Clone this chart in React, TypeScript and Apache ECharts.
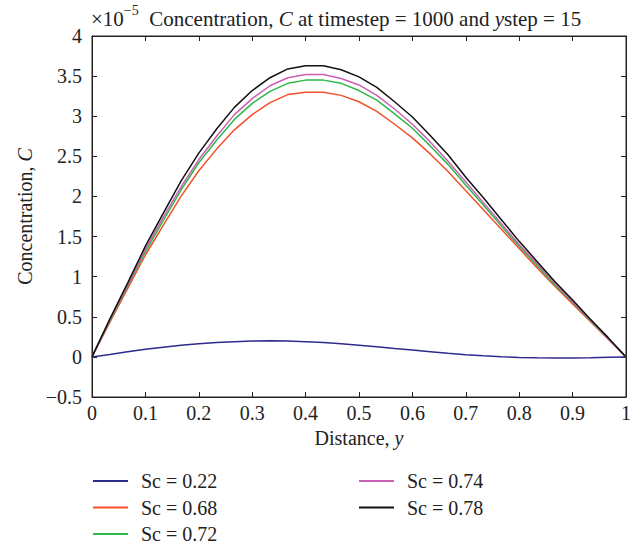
import React, { useEffect, useRef } from "react";
import * as echarts from "echarts";

// Mesh: 30 intervals across the channel, distance y from 0 to 1
const NODES = 30;
const distance = Array.from({ length: NODES + 1 }, (_, i) => i / NODES);

const xTicks = ["0", "0.1", "0.2", "0.3", "0.4", "0.5", "0.6", "0.7", "0.8", "0.9", "1"];

// Concentration C (×10^-5) at each mesh node, one array per Schmidt number
const sc022 = [0, 0.03, 0.065, 0.095, 0.12, 0.145, 0.163, 0.178, 0.19, 0.197, 0.2, 0.198, 0.19, 0.178, 0.163, 0.146, 0.127, 0.105, 0.085, 0.065, 0.045, 0.028, 0.013, 0.002, -0.007, -0.012, -0.014, -0.013, -0.01, -0.005, 0];
const sc068 = [0, 0.43, 0.85, 1.27, 1.64, 2.0, 2.32, 2.59, 2.83, 3.02, 3.17, 3.27, 3.3, 3.3, 3.26, 3.18, 3.06, 2.9, 2.73, 2.53, 2.31, 2.07, 1.83, 1.59, 1.35, 1.11, 0.88, 0.66, 0.44, 0.22, 0];
const sc072 = [0, 0.45, 0.88, 1.31, 1.7, 2.08, 2.42, 2.7, 2.96, 3.16, 3.31, 3.41, 3.45, 3.45, 3.41, 3.32, 3.2, 3.03, 2.85, 2.63, 2.4, 2.14, 1.89, 1.63, 1.38, 1.14, 0.9, 0.68, 0.45, 0.23, 0];
const sc074 = [0, 0.46, 0.89, 1.34, 1.74, 2.12, 2.46, 2.75, 3.02, 3.22, 3.38, 3.48, 3.52, 3.52, 3.47, 3.39, 3.26, 3.09, 2.9, 2.68, 2.44, 2.18, 1.92, 1.66, 1.4, 1.16, 0.92, 0.69, 0.46, 0.23, 0];
const sc078 = [0, 0.47, 0.92, 1.38, 1.79, 2.19, 2.54, 2.84, 3.11, 3.32, 3.48, 3.59, 3.63, 3.63, 3.58, 3.49, 3.36, 3.18, 2.99, 2.76, 2.52, 2.24, 1.98, 1.71, 1.44, 1.19, 0.94, 0.71, 0.47, 0.24, 0];

const seriesNames = ["Sc = 0.22", "Sc = 0.68", "Sc = 0.72", "Sc = 0.74", "Sc = 0.78"];
const seriesValues = [sc022, sc068, sc072, sc074, sc078];
const seriesColors = ["#2f2a8e", "#f2512a", "#2db84a", "#c960b4", "#111111"];

const FONT = "'Liberation Serif', 'Times New Roman', serif";
const FS = 20;
const TEXT = "#222";
const AXIS_COLOR = "#222";

const fmtNum = (v: number) => {
  const r = Math.round(v * 100) / 100;
  return String(r).replace("-", "\u2212");
};

export default function App() {
  const ref = useRef<HTMLDivElement>(null);

  useEffect(() => {
    document.body.style.margin = "0";
    if (!ref.current) return;
    const chart = echarts.init(ref.current, undefined, { renderer: "svg" });

    const tickCommon = { inside: true, length: 5, lineStyle: { color: AXIS_COLOR, width: 1 } };
    const lineCommon = { show: true, onZero: false, lineStyle: { color: AXIS_COLOR, width: 1 } };
    const nameRich = {
      n: { fontFamily: FONT, fontSize: FS, color: TEXT },
      i: { fontFamily: FONT, fontSize: FS, color: TEXT, fontStyle: "italic" },
    };
    const legendCommon = {
      orient: "vertical",
      top: 471,
      height: 90,
      padding: 0,
      itemWidth: 35,
      itemHeight: 14,
      itemGap: 6.5,
      itemStyle: { color: "rgba(0,0,0,0)", borderWidth: 0 },
      textStyle: { fontFamily: FONT, fontSize: FS, color: TEXT, lineHeight: 20, padding: [0, 0, 0, 8] },
    };

    const option: any = {
      animation: false,
      backgroundColor: "#fff",
      textStyle: { fontFamily: FONT },
      grid: {
        left: 92,
        right: 13,
        top: 36,
        bottom: 147,
        show: true,
        borderColor: AXIS_COLOR,
        borderWidth: 1,
        backgroundColor: "transparent",
      },
      xAxis: [
        {
          type: "value",
          min: 0,
          max: 1,
          interval: 0.1,
          position: "bottom",
          axisLine: lineCommon,
          axisTick: tickCommon,
          splitLine: { show: false },
          axisLabel: {
            color: TEXT,
            fontFamily: FONT,
            fontSize: FS,
            margin: 6,
            formatter: (v: number) => xTicks[Math.round(v * 10)] ?? "",
          },
          name: "{n|Distance, }{i|y}",
          nameLocation: "middle",
          nameGap: 30,
          nameTextStyle: { rich: nameRich },
        },
        {
          type: "value",
          min: 0,
          max: 1,
          interval: 0.1,
          position: "top",
          axisLine: lineCommon,
          axisTick: tickCommon,
          axisLabel: { show: false },
          splitLine: { show: false },
        },
      ],
      yAxis: [
        {
          type: "value",
          min: -0.5,
          max: 4,
          interval: 0.5,
          position: "left",
          axisLine: lineCommon,
          axisTick: tickCommon,
          splitLine: { show: false },
          axisLabel: {
            color: TEXT,
            fontFamily: FONT,
            fontSize: FS,
            margin: 10,
            formatter: fmtNum,
          },
          name: "{n|Concentration, }{i|C}",
          nameLocation: "middle",
          nameGap: 57,
          nameRotate: 90,
          nameTextStyle: { rich: nameRich },
        },
        {
          type: "value",
          min: -0.5,
          max: 4,
          interval: 0.5,
          position: "right",
          axisLine: lineCommon,
          axisTick: tickCommon,
          axisLabel: { show: false },
          splitLine: { show: false },
        },
      ],
      legend: [
        { ...legendCommon, data: seriesNames.slice(0, 3), left: 92 },
        { ...legendCommon, data: seriesNames.slice(3), left: 358 },
      ],
      graphic: [
        {
          type: "text",
          left: 91,
          top: 3,
          style: {
            text: "{a|×10}{s|\u22125}{a|  Concentration, }{i|C}{a| at timestep = 1000 and }{i|y}{a|step = 15}",
            rich: {
              a: { fontFamily: FONT, fontSize: 21, fill: TEXT, lineHeight: 26, verticalAlign: "bottom" },
              i: { fontFamily: FONT, fontSize: 21, fill: TEXT, fontStyle: "italic", lineHeight: 26, verticalAlign: "bottom" },
              s: { fontFamily: FONT, fontSize: 14, fill: TEXT, verticalAlign: "top", lineHeight: 14 },
            },
          },
        },
      ],
      series: seriesNames.map((name, k) => ({
        name,
        type: "line",
        xAxisIndex: 0,
        yAxisIndex: 0,
        symbol: "none",
        smooth: false,
        lineStyle: { color: seriesColors[k], width: 1.5 },
        itemStyle: { color: seriesColors[k] },
        data: distance.map((d, i) => [d, seriesValues[k][i]]),
        z: 2 + k,
      })),
    };

    chart.setOption(option);
    return () => chart.dispose();
  }, []);

  return <div ref={ref} style={{ width: 639, height: 544 }} />;
}
